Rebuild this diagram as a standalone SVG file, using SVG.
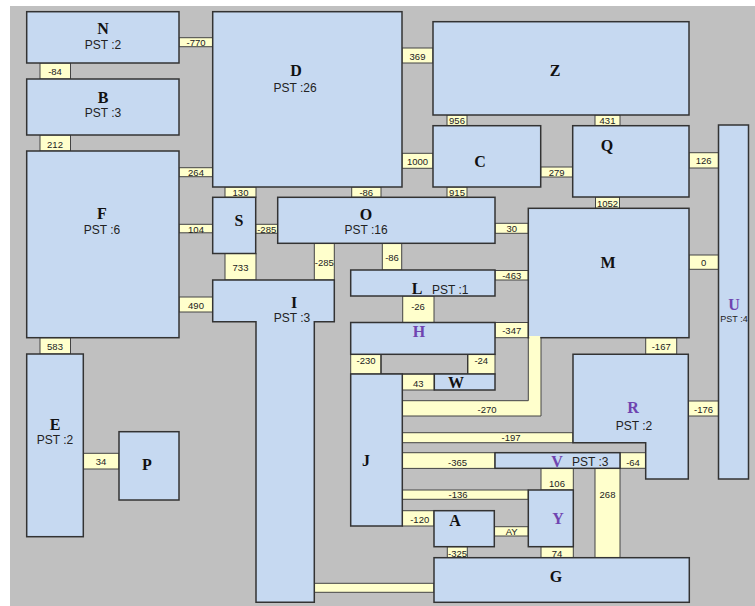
<svg xmlns="http://www.w3.org/2000/svg" width="755" height="606" viewBox="0 0 755 606">
<style>
.n{fill:#c6d9f1;stroke:#333;stroke-width:1.5}
.c{fill:#ffffcc;stroke:#444;stroke-width:1}
.t{font-family:"Liberation Serif","Times New Roman",serif;font-weight:bold;font-size:16px;fill:#111;text-anchor:middle}
.pu{fill:#6f44b0}
.p{font-family:"Liberation Sans",Arial,sans-serif;font-size:12px;fill:#222;text-anchor:middle}
.e{font-family:"Liberation Sans",Arial,sans-serif;font-size:9.5px;fill:#222;text-anchor:middle}
</style>
<rect x="0" y="0" width="755" height="606" fill="#ffffff"/>
<rect x="10" y="6" width="745" height="600" fill="#c0c0c0"/>
<g id="connectors">
<rect class="c" x="179" y="37.7" width="33.7" height="9"/><text class="e" x="196" y="45.5">-770</text>
<rect class="c" x="40" y="63" width="30.5" height="16"/><text class="e" x="55" y="75">-84</text>
<rect class="c" x="40" y="135" width="30.5" height="16"/><text class="e" x="55" y="147.5">212</text>
<rect class="c" x="179" y="167.7" width="33.7" height="9"/><text class="e" x="196" y="176">264</text>
<rect class="c" x="179" y="224.3" width="33.7" height="8.5"/><text class="e" x="196" y="232.5">104</text>
<rect class="c" x="179" y="297" width="33.7" height="15"/><text class="e" x="196" y="308.5">490</text>
<rect class="c" x="40" y="337.7" width="30.5" height="16.3"/><text class="e" x="55" y="350">583</text>
<rect class="c" x="83.3" y="453.3" width="35.7" height="15.7"/><text class="e" x="101" y="465">34</text>
<rect class="c" x="225" y="187" width="31" height="10.3"/><text class="e" x="240.5" y="196">130</text>
<rect class="c" x="351.7" y="187" width="29.3" height="10.3"/><text class="e" x="366.3" y="196">-86</text>
<rect class="c" x="447" y="187" width="20" height="10.3"/><text class="e" x="457" y="196">915</text>
<rect class="c" x="402" y="48" width="31" height="15"/><text class="e" x="417.5" y="59.5">369</text>
<rect class="c" x="402" y="153.3" width="31" height="15"/><text class="e" x="417.5" y="164.8">1000</text>
<rect class="c" x="447" y="115" width="20" height="10.7"/><text class="e" x="457" y="124.3">956</text>
<rect class="c" x="595" y="115" width="25" height="10.7"/><text class="e" x="607.5" y="124.3">431</text>
<rect class="c" x="540.7" y="167" width="32" height="10"/><text class="e" x="556.7" y="176">279</text>
<rect class="c" x="689" y="152.7" width="29.5" height="15.3"/><text class="e" x="703.7" y="164.3">126</text>
<rect class="c" x="595.5" y="197" width="24" height="11.3"/><text class="e" x="607.5" y="206.7">1052</text>
<rect class="c" x="255.7" y="224.3" width="22" height="9"/><text class="e" x="266.7" y="232.8">-285</text>
<rect class="c" x="225" y="253.5" width="31" height="26.5"/><text class="e" x="240.5" y="271">733</text>
<rect class="c" x="314.3" y="243.3" width="20" height="36.7"/><text class="e" x="324.3" y="266">-285</text>
<rect class="c" x="382.3" y="243.3" width="19.4" height="26.7"/><text class="e" x="392" y="260.7">-86</text>
<rect class="c" x="495" y="223.3" width="33.3" height="10"/><text class="e" x="511.7" y="232.3">30</text>
<rect class="c" x="495" y="270.5" width="33.3" height="9.5"/><text class="e" x="511.7" y="279.3">-463</text>
<rect class="c" x="402.7" y="296" width="31.3" height="26.5"/><text class="e" x="418" y="309.5">-26</text>
<rect class="c" x="495" y="322.5" width="33.3" height="15.2"/><text class="e" x="511.7" y="334">-347</text>
<rect class="c" x="689" y="255" width="29.5" height="14.3"/><text class="e" x="703.7" y="266">0</text>
<rect class="c" x="645.7" y="337.7" width="31" height="16.6"/><text class="e" x="661.2" y="350">-167</text>
<rect class="c" x="350.7" y="354.3" width="30.3" height="19.7"/><text class="e" x="366" y="363.5">-230</text>
<rect class="c" x="467.7" y="354.3" width="27.3" height="19.7"/><text class="e" x="481.3" y="363.5">-24</text>
<rect class="c" x="402.3" y="374" width="32" height="16"/><text class="e" x="418.3" y="386.5">43</text>
<polygon class="c" points="402.3,400.7 528.3,400.7 528.3,337.7 541,337.7 541,416 402.3,416"/><text class="e" x="487" y="412.5">-270</text>
<rect class="c" x="402.3" y="432.7" width="170.7" height="10"/><text class="e" x="511" y="441">-197</text>
<rect class="c" x="688.3" y="401" width="30.2" height="15"/><text class="e" x="703.5" y="412.5">-176</text>
<rect class="c" x="402.3" y="452.7" width="92.7" height="15.7"/><text class="e" x="457.5" y="466">-365</text>
<rect class="c" x="620" y="452.7" width="25.7" height="15.6"/><text class="e" x="633" y="466">-64</text>
<rect class="c" x="541" y="468.3" width="32.3" height="21.7"/><text class="e" x="557" y="486.5">106</text>
<rect class="c" x="595" y="468.3" width="25" height="89.4"/><text class="e" x="607.5" y="497.5">268</text>
<rect class="c" x="402.3" y="490" width="126" height="9.3"/><text class="e" x="458" y="497.5">-136</text>
<rect class="c" x="402.3" y="510.7" width="31.7" height="15.3"/><text class="e" x="419.7" y="523">-120</text>
<rect class="c" x="494.3" y="526.7" width="34" height="9.3"/><text class="e" x="511.7" y="535">AY</text>
<rect class="c" x="447.3" y="546.7" width="20" height="11"/><text class="e" x="457.5" y="556.5">-325</text>
<rect class="c" x="541" y="546.7" width="32.3" height="11"/><text class="e" x="557" y="556.5">74</text>
<rect class="c" x="314.3" y="583.3" width="119.7" height="9"/>
<rect x="381" y="354.3" width="86.7" height="19.7" fill="none" stroke="#333" stroke-width="1.2"/>
</g>
<g id="node-N"><rect class="n" x="26.7" y="11.7" width="152.3" height="51.3"/><text class="t" x="103" y="34">N</text><text class="p" x="103" y="49">PST :2</text></g>
<g id="node-B"><rect class="n" x="26.7" y="79" width="152.3" height="56"/><text class="t" x="103" y="103">B</text><text class="p" x="103" y="116.5">PST :3</text></g>
<g id="node-F"><rect class="n" x="26.7" y="151" width="152.3" height="186.7"/><text class="t" x="102" y="219">F</text><text class="p" x="102" y="234">PST :6</text></g>
<g id="node-E"><rect class="n" x="26.7" y="354" width="56.6" height="182.7"/><text class="t" x="55" y="430">E</text><text class="p" x="55" y="443.5">PST :2</text></g>
<g id="node-P"><rect class="n" x="119" y="431.7" width="60" height="68.3"/><text class="t" x="147" y="470">P</text></g>
<g id="node-D"><rect class="n" x="212.7" y="11.7" width="189.3" height="175.3"/><text class="t" x="296" y="76">D</text><text class="p" x="295" y="91.5">PST :26</text></g>
<g id="node-Z"><rect class="n" x="433" y="21.7" width="256" height="93.3"/><text class="t" x="555" y="76">Z</text></g>
<g id="node-C"><rect class="n" x="433" y="125.7" width="107.7" height="61.3"/><text class="t" x="480" y="166.5">C</text></g>
<g id="node-Q"><rect class="n" x="572.7" y="125.7" width="116.3" height="71.3"/><text class="t" x="607" y="151">Q</text></g>
<g id="node-U"><rect class="n" x="718.5" y="125" width="30" height="354"/><text class="t pu" x="734" y="310">U</text><text class="p" x="734" y="321.5" style="font-size:9px">PST :4</text></g>
<g id="node-S"><rect class="n" x="212.7" y="197.3" width="43" height="56.2"/><text class="t" x="239" y="226">S</text></g>
<g id="node-O"><rect class="n" x="277.7" y="197.3" width="217.3" height="46"/><text class="t" x="366" y="220">O</text><text class="p" x="366" y="234">PST :16</text></g>
<g id="node-I"><polygon class="n" points="212.7,280 334.3,280 334.3,321.7 314.3,321.7 314.3,602.3 256,602.3 256,321.7 212.7,321.7"/><text class="t" x="294" y="308">I</text><text class="p" x="292" y="322">PST :3</text></g>
<g id="node-M"><rect class="n" x="528.3" y="208.3" width="160.7" height="129.4"/><text class="t" x="608" y="268">M</text></g>
<g id="node-L"><rect class="n" x="350.7" y="270" width="144.3" height="26"/><text class="t" x="417" y="294">L</text><text class="p" x="432" y="293.5" style="text-anchor:start">PST :1</text></g>
<g id="node-H"><rect class="n" x="350.7" y="322.5" width="144.3" height="31.8"/><text class="t pu" x="419" y="337">H</text></g>
<g id="node-W"><rect class="n" x="434.3" y="374" width="60.7" height="16"/><text class="t" x="456" y="388">W</text></g>
<g id="node-J"><rect class="n" x="350.7" y="374" width="51.6" height="152"/><text class="t" x="366" y="466">J</text></g>
<g id="node-R"><polygon class="n" points="573,354.3 688.3,354.3 688.3,479 645.7,479 645.7,442.7 573,442.7"/><text class="t pu" x="633" y="413">R</text><text class="p" x="634" y="430">PST :2</text></g>
<g id="node-V"><rect class="n" x="495" y="452.7" width="125" height="15.6"/><text class="t pu" x="557" y="466.5">V</text><text class="p" x="572" y="466" style="text-anchor:start">PST :3</text></g>
<g id="node-Y"><rect class="n" x="528.3" y="490" width="45" height="56.7"/><text class="t pu" x="558" y="524">Y</text></g>
<g id="node-A"><rect class="n" x="434" y="510.7" width="60.3" height="36"/><text class="t" x="455" y="525.5">A</text></g>
<g id="node-G"><rect class="n" x="434" y="557.7" width="255.3" height="44.6"/><text class="t" x="556" y="581.5">G</text></g>
<rect x="529.2" y="336" width="11" height="3" fill="#ffffcc"/>
</svg>
